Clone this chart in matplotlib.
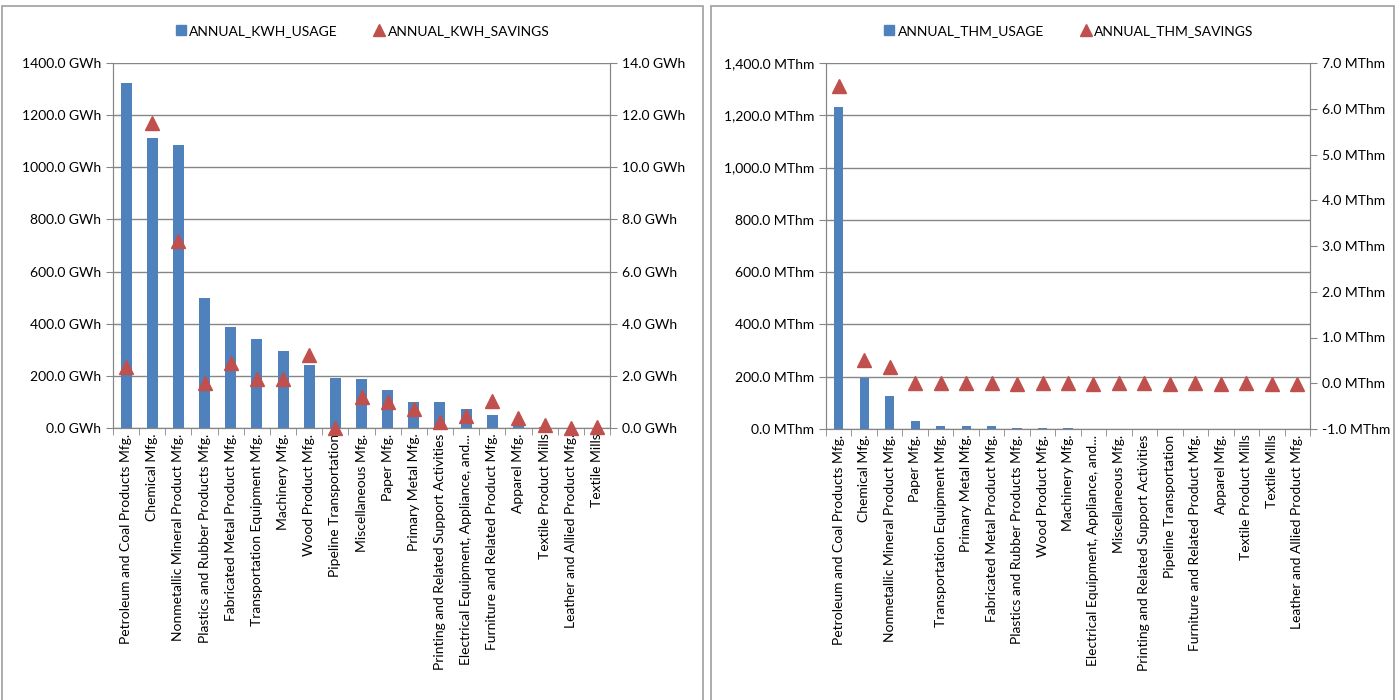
import matplotlib
matplotlib.use("Agg")
import matplotlib.pyplot as plt
from matplotlib.lines import Line2D
from matplotlib.patches import Rectangle
from matplotlib.ticker import FuncFormatter, MultipleLocator, FixedLocator
import numpy as np

plt.rcParams["font.family"] = ["Lato", "DejaVu Sans"]

# ── Electricity by sector (GWh) ───────────────────────────────
kwh_sectors = [
    "Petroleum and Coal Products Mfg.", "Chemical Mfg.",
    "Nonmetallic Mineral Product Mfg.", "Plastics and Rubber Products Mfg.",
    "Fabricated Metal Product Mfg.", "Transportation Equipment Mfg.",
    "Machinery Mfg.", "Wood Product Mfg.", "Pipeline Transportation",
    "Miscellaneous Mfg.", "Paper Mfg.", "Primary Metal Mfg.",
    "Printing and Related Support Activities",
    "Electrical Equipment, Appliance, and...",
    "Furniture and Related Product Mfg.", "Apparel Mfg.",
    "Textile Product Mills", "Leather and Allied Product Mfg.", "Textile Mills",
]
kwh_usage = [1325, 1112, 1085, 497, 388, 342, 297, 240, 192, 188, 146,
             100, 100, 71, 49, 17, 3, 1, 1]
kwh_savings = [2.34, 11.68, 7.18, 1.72, 2.49, 1.88, 1.88, 2.80, 0.0, 1.20,
               1.00, 0.71, 0.23, 0.45, 1.03, 0.40, 0.10, 0.0, 0.02]

# ── Natural gas by sector (MThm) ──────────────────────────────
thm_sectors = [
    "Petroleum and Coal Products Mfg.", "Chemical Mfg.",
    "Nonmetallic Mineral Product Mfg.", "Paper Mfg.",
    "Transportation Equipment Mfg.", "Primary Metal Mfg.",
    "Fabricated Metal Product Mfg.", "Plastics and Rubber Products Mfg.",
    "Wood Product Mfg.", "Machinery Mfg.",
    "Electrical Equipment, Appliance, and...", "Miscellaneous Mfg.",
    "Printing and Related Support Activities", "Pipeline Transportation",
    "Furniture and Related Product Mfg.", "Apparel Mfg.",
    "Textile Product Mills", "Textile Mills", "Leather and Allied Product Mfg.",
]
thm_usage = [1230, 194, 127, 30, 10, 10, 10, 5, 5, 5, 1, 1, 1, 0.5, 0.5,
             0.3, 0.3, 0.2, 0.1]
thm_savings = [6.50, 0.51, 0.36, 0.01, 0.01, 0.01, 0.01, -0.02, 0.0, 0.0,
               -0.02, 0.0, 0.0, -0.02, 0.0, -0.02, 0.01, -0.02, -0.02]

BLUE = "#4f81bd"
RED = "#c0504d"
GRID = "#868686"
FS = 10
W, H = 1395, 700

fig = plt.figure(figsize=(W / 100, H / 100), dpi=100)

# panel frames
for x0, x1 in [(2, 703), (711, 1394)]:
    fig.patches.append(Rectangle((x0 / W, -0.01), (x1 - x0) / W, 1 - 6 / H + 0.01,
                                 transform=fig.transFigure, fill=False,
                                 ec="#a6a6a6", lw=1.3))


def panel(rect, sectors, usage, savings, ylim, rlim, rstep, lfmt, rfmt, names, bw):
    ax = fig.add_axes(rect)
    x = np.arange(len(sectors))
    ax.bar(x, usage, width=bw, color=BLUE, zorder=2)
    ax.set_xlim(-0.5, len(sectors) - 0.5)
    ax.set_ylim(*ylim)
    ax.yaxis.set_major_locator(MultipleLocator(200))
    ax.yaxis.set_major_formatter(FuncFormatter(lfmt))
    ax.grid(axis="y", color=GRID, lw=1, zorder=0)
    ax.set_xticks(x)
    ax.set_xticklabels(sectors, rotation=90, fontsize=FS)
    ax.xaxis.set_minor_locator(FixedLocator(np.arange(len(sectors) + 1) - 0.5))
    ax.tick_params(axis="x", which="major", length=0, pad=4)
    ax.tick_params(axis="x", which="minor", length=5, color=GRID, direction="out")
    ax.tick_params(axis="y", length=5, color=GRID, labelsize=FS)
    for s in ax.spines.values():
        s.set_color(GRID)
    ax.spines["top"].set_visible(False)

    axr = ax.twinx()
    axr.plot(x, savings, "^", color=RED, ms=10.5, clip_on=False, zorder=3)
    axr.set_ylim(*rlim)
    axr.yaxis.set_major_locator(MultipleLocator(rstep))
    axr.yaxis.set_major_formatter(FuncFormatter(rfmt))
    axr.tick_params(axis="y", length=5, color=GRID, labelsize=FS)
    for s in axr.spines.values():
        s.set_color(GRID)
    axr.spines["top"].set_visible(False)

    handles = [Line2D([], [], marker="s", ls="", color=BLUE, ms=7),
               Line2D([], [], marker="^", ls="", color=RED, ms=9)]
    cx = rect[0] + rect[2] / 2
    fig.legend(handles, names, loc="center", bbox_to_anchor=(cx, 1 - 31 / H),
               ncol=2, frameon=False, fontsize=FS, handletextpad=0.1,
               columnspacing=2.5, handlelength=1.0)
    return ax


panel([113 / W, 1 - 428 / H, 497 / W, 365 / H], kwh_sectors, kwh_usage,
      kwh_savings, (0, 1400), (0, 14), 2,
      lambda v, p: f"{v:.1f} GWh", lambda v, p: f"{v:.1f} GWh",
      ["ANNUAL_KWH_USAGE", "ANNUAL_KWH_SAVINGS"], 0.42)

panel([826 / W, 1 - 429 / H, 484 / W, 366 / H], thm_sectors, thm_usage,
      thm_savings, (0, 1400), (-1, 7), 1,
      lambda v, p: f"{v:,.1f} MThm", lambda v, p: f"{v:.1f} MThm",
      ["ANNUAL_THM_USAGE", "ANNUAL_THM_SAVINGS"], 0.36)

fig.savefig("out.png", dpi=100)
